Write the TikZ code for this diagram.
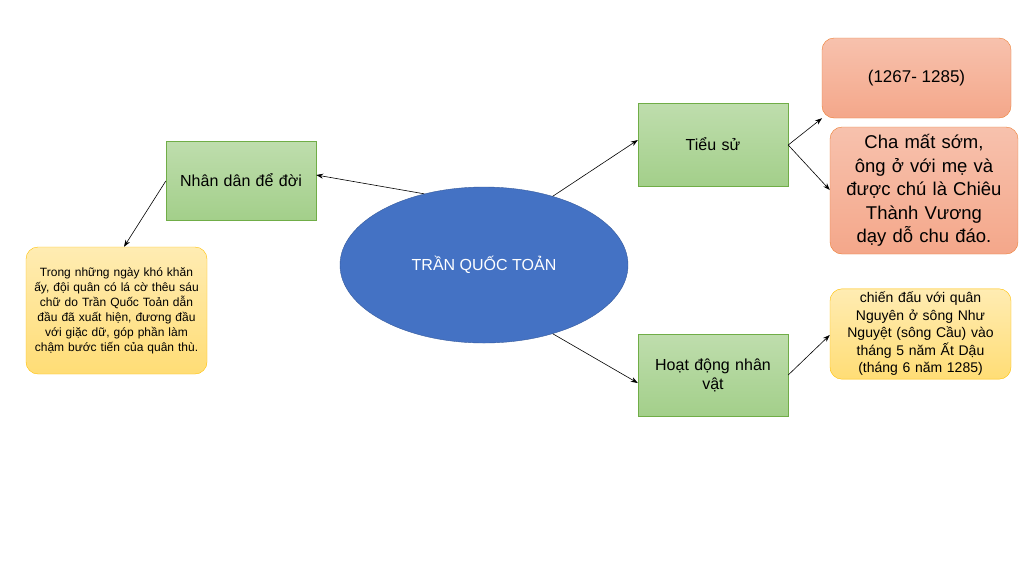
\documentclass[tikz,border=0pt]{standalone}
\usepackage{fontspec}
\setmainfont{Liberation Sans}
\usetikzlibrary{shapes.geometric,arrows.meta}
\definecolor{gfill}{HTML}{A3CF8A}\definecolor{gdraw}{HTML}{70AD47}
\definecolor{ofill}{HTML}{F4A78A}\definecolor{odraw}{HTML}{ED7D31}
\definecolor{yfill}{HTML}{FFD966}\definecolor{ydraw}{HTML}{FFC000}
\definecolor{blue1}{HTML}{4472C4}
\tikzset{
 gbox/.style={draw=gdraw,top color=gfill!70,bottom color=gfill,minimum width=150pt,align=center,font=\fontsize{16}{19}\selectfont,text width=140pt},
 obox/.style={draw=odraw,rounded corners=12pt,top color=ofill!70,bottom color=ofill,align=center},
 ybox/.style={draw=ydraw,rounded corners=12pt,top color=yfill!50,bottom color=yfill!90,align=center},
 arr/.style={-{Stealth[length=7pt,width=5pt]},black,line width=0.6pt}
}
\begin{document}
\begin{tikzpicture}[x=1pt,y=-1pt]
\useasboundingbox[fill=white] (0,0) rectangle (1024,574);
\node[ellipse,fill=blue1,draw=blue1!80!black,minimum width=288pt,minimum height=156pt,text=white,font=\fontsize{16}{19}\selectfont] (c) at (484,265) {TRẦN QUỐC TOẢN};
\node[gbox,minimum height=79pt] (n) at (241,180.5) {Nhân dân để đời};
\node[gbox,minimum height=83pt] (t) at (713,144.5) {Tiểu sử};
\node[gbox,minimum height=82pt] (h) at (713,375) {Hoạt động nhân\\vật};
\node[obox,minimum width=189pt,minimum height=80pt,font=\fontsize{17}{20}\selectfont] (o1) at (916.5,78) {(1267- 1285)};
\node[obox,minimum width=188pt,minimum height=127pt,text width=170pt,font=\fontsize{18.5}{23.5}\selectfont] (o2) at (924,190.5) {Cha mất sớm, ông ở với mẹ và được chú là Chiêu Thành Vương dạy dỗ chu đáo.};
\node[ybox,minimum width=181pt,minimum height=127pt,text width=165pt,font=\fontsize{12}{15}\selectfont] (y1) at (116.5,310.5) {Trong những ngày khó khăn ấy, đội quân có lá cờ thêu sáu chữ do Trần Quốc Toản dẫn đầu đã xuất hiện, đương đầu với giặc dữ, góp phần làm chậm bước tiến của quân thù.};
\node[ybox,minimum width=181pt,minimum height=84pt,text width=165pt,font=\fontsize{14}{17.5}\selectfont] (y2) at (920.5,334) {chiến đấu với quân Nguyên ở sông Như Nguyệt (sông Cầu) vào tháng 5 năm Ất Dậu (tháng 6 năm 1285)};
\draw[arr] (c.130) -- (n.east |- 0,175);
\draw[arr] (n.west |- 0,181) -- (y1.north west -| 124,247);
\draw[arr] (c.45) -- (t.west |- 0,140);
\draw[arr] (c.-45) -- (h.west |- 0,383);
\draw[arr] (t.east |- 0,145) -- (o1.south west -| 822,95);
\draw[arr] (t.east |- 0,145) -- (o2.west |- 0,190);
\draw[arr] (h.east |- 0,375) -- (y2.west |- 0,335);
\end{tikzpicture}
\end{document}
